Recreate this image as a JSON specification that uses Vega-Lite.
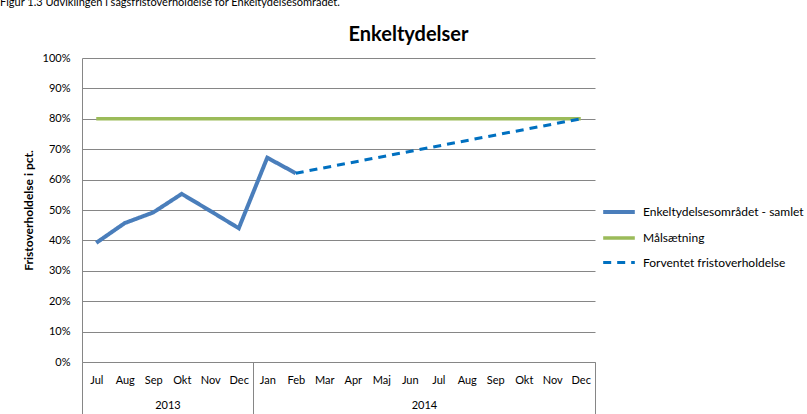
{
  "$schema": "https://vega.github.io/schema/vega-lite/v6.json",
  "width": 513,
  "height": 304,
  "autosize": {"type": "none"},
  "padding": {"left": 82, "top": 58, "right": 212, "bottom": 52},
  "background": "white",
  "config": {
    "font": "Lato",
    "view": {"stroke": null},
    "axis": {"labelColor": "#000000", "titleColor": "#000000", "labelFontSize": 11, "labelFont": "Lato", "titleFont": "Lato"},
    "legend": {"labelFont": "Lato", "labelColor": "#000000"}
  },
  "title": {
    "text": "Figur 1.3 Udviklingen i sagsfristoverholdelse for Enkeltydelsesområdet.",
    "anchor": "start",
    "frame": "group",
    "fontSize": 11,
    "fontWeight": "normal",
    "font": "Lato",
    "color": "#000000",
    "dx": -82,
    "offset": 16
  },
  "data": {
    "values": [
      {"series": "Enkeltydelsesområdet - samlet", "i": 0, "value": 0.392},
      {"series": "Enkeltydelsesområdet - samlet", "i": 1, "value": 0.457},
      {"series": "Enkeltydelsesområdet - samlet", "i": 2, "value": 0.492},
      {"series": "Enkeltydelsesområdet - samlet", "i": 3, "value": 0.553},
      {"series": "Enkeltydelsesområdet - samlet", "i": 4, "value": 0.497},
      {"series": "Enkeltydelsesområdet - samlet", "i": 5, "value": 0.44},
      {"series": "Enkeltydelsesområdet - samlet", "i": 6, "value": 0.672},
      {"series": "Enkeltydelsesområdet - samlet", "i": 7, "value": 0.621},
      {"series": "Målsætning", "i": 0, "value": 0.8},
      {"series": "Målsætning", "i": 1, "value": 0.8},
      {"series": "Målsætning", "i": 2, "value": 0.8},
      {"series": "Målsætning", "i": 3, "value": 0.8},
      {"series": "Målsætning", "i": 4, "value": 0.8},
      {"series": "Målsætning", "i": 5, "value": 0.8},
      {"series": "Målsætning", "i": 6, "value": 0.8},
      {"series": "Målsætning", "i": 7, "value": 0.8},
      {"series": "Målsætning", "i": 8, "value": 0.8},
      {"series": "Målsætning", "i": 9, "value": 0.8},
      {"series": "Målsætning", "i": 10, "value": 0.8},
      {"series": "Målsætning", "i": 11, "value": 0.8},
      {"series": "Målsætning", "i": 12, "value": 0.8},
      {"series": "Målsætning", "i": 13, "value": 0.8},
      {"series": "Målsætning", "i": 14, "value": 0.8},
      {"series": "Målsætning", "i": 15, "value": 0.8},
      {"series": "Målsætning", "i": 16, "value": 0.8},
      {"series": "Målsætning", "i": 17, "value": 0.8},
      {"series": "Forventet fristoverholdelse", "i": 7, "value": 0.621},
      {"series": "Forventet fristoverholdelse", "i": 17, "value": 0.8}
    ]
  },
  "layer": [
    {
      "mark": {"type": "line", "strokeCap": "butt", "strokeJoin": "miter"},
      "encoding": {
        "x": {
          "field": "i", "type": "quantitative",
          "scale": {"domain": [-0.5, 17.5], "nice": false, "zero": false},
          "axis": {
            "orient": "bottom",
            "values": [0, 1, 2, 3, 4, 5, 6, 7, 8, 9, 10, 11, 12, 13, 14, 15, 16, 17],
            "labelExpr": "['Jul','Aug','Sep','Okt','Nov','Dec','Jan','Feb','Mar','Apr','Maj','Jun','Jul','Aug','Sep','Okt','Nov','Dec'][datum.value]",
            "ticks": false, "grid": false, "domain": true, "domainColor": "#868686",
            "labelPadding": 12, "title": null, "labelFlush": false, "labelOverlap": false
          }
        },
        "y": {
          "field": "value", "type": "quantitative",
          "scale": {"domain": [0, 1], "nice": false},
          "axis": {
            "values": [0, 0.1, 0.2, 0.3, 0.4, 0.5, 0.6, 0.7, 0.8, 0.9, 1],
            "format": ".0%", "grid": true, "gridColor": "#868686", "gridWidth": 1,
            "domain": true, "domainColor": "#868686", "ticks": false, "labelPadding": 12,
            "title": "Fristoverholdelse i pct.", "titleFontSize": 12, "titleFontWeight": "bold",
            "titlePadding": 7
          }
        },
        "color": {
          "field": "series", "type": "nominal",
          "scale": {
            "domain": ["Enkeltydelsesområdet - samlet", "Målsætning", "Forventet fristoverholdelse"],
            "range": ["#4A7EBB", "#9BBB59", "#0070C0"]
          },
          "legend": {
            "title": null, "orient": "none", "legendX": 519, "legendY": 136,
            "symbolType": "stroke", "symbolSize": 1000, "labelFontSize": 12,
            "rowPadding": 0, "labelOffset": 6, "labelLimit": 250
          }
        },
        "strokeDash": {
          "field": "series", "type": "nominal",
          "scale": {
            "domain": ["Enkeltydelsesområdet - samlet", "Målsætning", "Forventet fristoverholdelse"],
            "range": [[1, 0], [1, 0], [8, 6]]
          },
          "legend": {
            "title": null, "orient": "none", "legendX": 519, "legendY": 136,
            "symbolType": "stroke", "symbolSize": 1000, "labelFontSize": 12,
            "rowPadding": 0, "labelOffset": 6, "labelLimit": 250
          }
        },
        "strokeWidth": {
          "field": "series", "type": "nominal",
          "scale": {
            "domain": ["Enkeltydelsesområdet - samlet", "Målsætning", "Forventet fristoverholdelse"],
            "range": [4, 3, 2.5]
          },
          "legend": {
            "title": null, "orient": "none", "legendX": 519, "legendY": 136,
            "symbolType": "stroke", "symbolSize": 1000, "labelFontSize": 12,
            "rowPadding": 0, "labelOffset": 6, "labelLimit": 250
          }
        }
      }
    },
    {
      "mark": {"type": "point", "opacity": 0},
      "encoding": {
        "x": {
          "field": "i", "type": "quantitative",
          "scale": {"domain": [-0.5, 17.5], "nice": false, "zero": false},
          "axis": {
            "orient": "bottom", "values": [-0.5, 5.5, 17.5], "labels": false,
            "ticks": true, "tickSize": 52, "tickColor": "#868686", "tickWidth": 1,
            "domain": false, "grid": false, "title": null
          }
        }
      }
    },
    {
      "mark": {"type": "point", "opacity": 0},
      "encoding": {
        "x": {
          "field": "i", "type": "quantitative",
          "scale": {"domain": [-0.5, 17.5], "nice": false, "zero": false},
          "axis": {
            "orient": "bottom", "values": [2.5, 11.5],
            "labelExpr": "datum.value < 6 ? '2013' : '2014'",
            "ticks": false, "domain": false, "grid": false, "title": null,
            "labelPadding": 37, "labelFlush": false
          }
        }
      }
    },
    {
      "mark": {"type": "point", "opacity": 0},
      "encoding": {
        "x": {
          "field": "i", "type": "quantitative",
          "scale": {"domain": [-0.5, 17.5], "nice": false, "zero": false},
          "axis": {
            "orient": "top", "labels": false, "ticks": false, "domain": false, "grid": false,
            "title": "Enkeltydelser", "titleFontSize": 20, "titleFontWeight": "bold",
            "titleX": 326, "titleAnchor": null, "titleAlign": "center", "titlePadding": 14
          }
        }
      }
    }
  ],
  "resolve": {"scale": {"x": "independent"}, "axis": {"x": "independent"}}
}
